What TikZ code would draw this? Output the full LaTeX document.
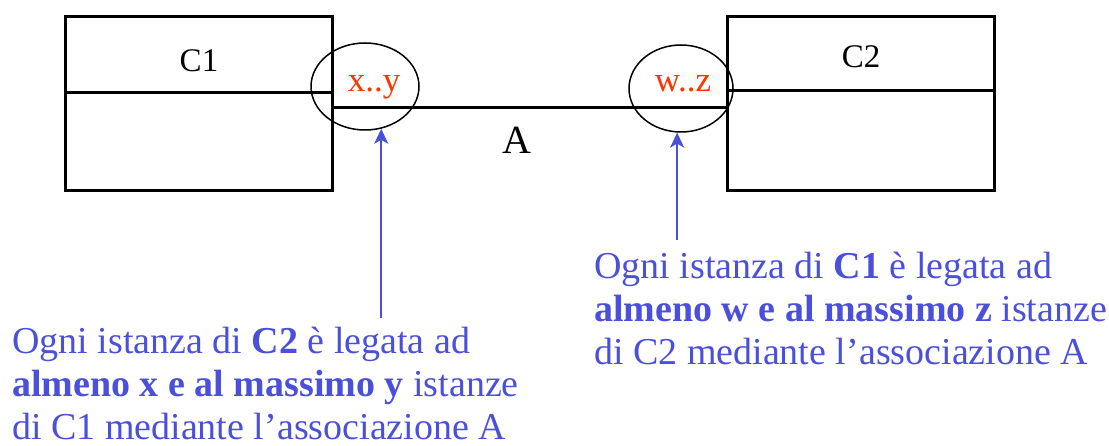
\documentclass[tikz,border=0pt]{standalone}
\usepackage{fontspec}
\setmainfont{Liberation Serif}
\usepackage{xcolor}
\definecolor{NoteBlue}{HTML}{4A50DA}
\definecolor{MultRed}{HTML}{FF3300}
\usepackage{tikz}
\usetikzlibrary{arrows.meta,positioning,calc,shapes.geometric}

\begin{document}
\begin{tikzpicture}[x=1pt,y=-1pt,
  part/.style={draw,line width=3pt,minimum width=267pt,inner sep=0pt,outer sep=0pt},
  cname/.style={font=\fontsize{33}{40}\selectfont,inner sep=0pt},
  mult/.style={font=\fontsize{35}{40}\selectfont,text=MultRed,inner sep=0pt,anchor=base},
  ring/.style={draw,ellipse,line width=1.5pt,inner sep=0pt,minimum height=87pt},
  note/.style={align=left,text=NoteBlue,inner sep=0pt,anchor=north west,font=\fontsize{38}{42.7}\selectfont},
  ptr/.style={-{Stealth[length=15pt,width=14pt,inset=4pt]},line width=2pt,NoteBlue}
]
  \useasboundingbox (0,0) rectangle (1109,446);

  % class C1
  \node[part,minimum height=76pt] (c1top) at (199,55) {};
  \node[part,minimum height=98pt,below=0pt of c1top] (c1body) {};
  \node[cname] (c1lbl) at ([yshift=-6pt]c1top.center) {C1};

  % class C2
  \node[part,minimum height=74pt] (c2top) at (861,54) {};
  \node[part,minimum height=100pt,below=0pt of c2top] (c2body) {};
  \node[cname] (c2lbl) at ([yshift=-3pt]c2top.center) {C2};

  % association A
  \path (c1body.north east) ++(0,15) coordinate (aL);
  \draw[line width=3pt] (aL) -- (aL -| c2body.west);
  \node[font=\fontsize{40}{44}\selectfont,inner sep=0pt] (alab) at (517,140) {A};

  % multiplicities
  \node[ring,minimum width=108pt] (exy) at (365,86.5) {};
  \node[mult] (mxy) at (374,92) {x..y};
  \node[ring,minimum width=104pt] (ewz) at (681,88.5) {};
  \node[mult] (mwz) at (683,92) {w..z};

  % notes
  \node[note] (noteL) at (12,327)
    {Ogni istanza di \textbf{C2} è legata ad\\
     \textbf{almeno x e al massimo y} istanze\\
     di C1 mediante l’associazione A};
  \node[note] (noteR) at (594,252)
    {Ogni istanza di \textbf{C1} è legata ad\\
     \textbf{almeno w e al massimo z} istanze\\
     di C2 mediante l’associazione A};

  \draw[ptr] ([yshift=9pt]noteL.north -| exy.-69) -- (exy.-69);
  \draw[ptr] ([yshift=12pt]noteR.north -| ewz.-95) -- (ewz.-95);
\end{tikzpicture}
\end{document}
